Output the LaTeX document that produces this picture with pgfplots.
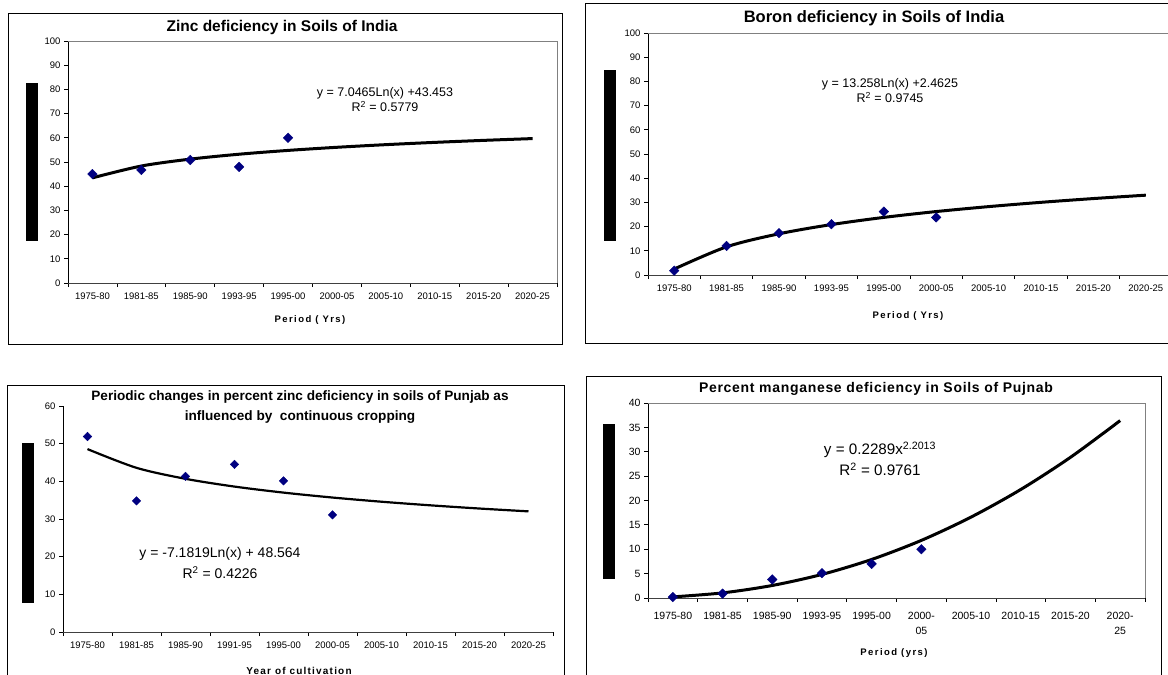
\documentclass[border=0pt]{standalone}
\usepackage{fontspec}
\setmainfont{Liberation Sans}
\usepackage{pgfplots}
\pgfplotsset{compat=1.18}
\definecolor{navy}{RGB}{0,0,128}
\pgfplotsset{
  panel/.style={
    scale only axis, xmin=0.5, xmax=10.5, ymin=0,
    axis x line*=bottom, axis y line*=left,
    x axis line style={black!75, line width=1pt, -},
    y axis line style={black, line width=0.9pt, -},
    xtick={0.5,1.5,...,10.5}, x tick label as interval,
    tick align=outside, major tick length=4pt,
    tick style={black, line width=0.8pt},
    tick label style={font=\fontsize{9.5}{11}\selectfont},
    xticklabel style={yshift=-2pt, align=center},
    /pgf/number format/assume math mode=true,
    clip=false,
  },
  datamark/.style={only marks, mark=square*, mark size=3.4pt,
    mark options={rotate=45, fill=navy, draw=navy}, color=navy},
  trend/.style={no marks, black, line width=3pt, smooth},
}
\begin{document}
\begin{tikzpicture}
\useasboundingbox (0pt,0pt) rectangle (1168pt,-675pt);
\clip (0pt,0pt) rectangle (1168pt,-675pt);
\fill[white] (0pt,0pt) rectangle (1168pt,-675pt);
\begin{scope}[x=1pt,y=-1pt]
  % frames
  \draw[line width=1pt] (8,13) rectangle (562,344);
  \draw[line width=1pt] (585,3) rectangle (1180,343);
  \draw[line width=1pt] (7,385) rectangle (564,700);
  \draw[line width=1pt] (586,376) rectangle (1161,700);
  % black blocks (rotated axis titles)
  \fill[black] (26,83) rectangle (38,241);
  \fill[black] (604,70) rectangle (616,241);
  \fill[black] (22,443) rectangle (34,603);
  \fill[black] (603,424) rectangle (615,579);
  % titles
  \node[font=\fontsize{15.5}{18}\selectfont\bfseries] at (282,27) {Zinc deficiency in Soils of India};
  \node[font=\fontsize{16.5}{18}\selectfont\bfseries] at (874,18) {Boron deficiency in Soils of India};
  \node[font=\fontsize{13.6}{20}\selectfont\bfseries, align=center] at (300,407) {Periodic changes in percent zinc deficiency in soils of Punjab as\\influenced by\ \ continuous cropping};
  \node[font=\fontsize{14}{16}\selectfont\bfseries\addfontfeatures{LetterSpace=5}] at (876,389) {Percent manganese deficiency in Soils of Pujnab};
  % axis titles
  \node[font=\fontsize{9.5}{11}\selectfont\bfseries\addfontfeatures{LetterSpace=15}] at (310,320) {Period ( Yrs)};
  \node[font=\fontsize{9.5}{11}\selectfont\bfseries\addfontfeatures{LetterSpace=15}] at (908,316) {Period ( Yrs)};
  \node[font=\fontsize{10}{11}\selectfont\bfseries\addfontfeatures{LetterSpace=12}] at (299,671) {Year of cultivation};
  \node[font=\fontsize{9.5}{11}\selectfont\bfseries\addfontfeatures{LetterSpace=15}] at (894,653) {Period (yrs)};
  % equations
  \node[font=\fontsize{12.5}{15}\selectfont, align=center] at (385,100) {y = 7.0465Ln(x) +43.453\\R\textsuperscript{2} = 0.5779};
  \node[font=\fontsize{12.5}{15}\selectfont, align=center] at (890,91) {y = 13.258Ln(x) +2.4625\\R\textsuperscript{2} = 0.9745};
  \node[font=\fontsize{14}{21}\selectfont, align=center] at (220,563) {y = -7.1819Ln(x) + 48.564\\R\textsuperscript{2} = 0.4226};
  \node[font=\fontsize{15.2}{21}\selectfont, align=center] at (880,459) {y = 0.2289x\textsuperscript{2.2013}\\R\textsuperscript{2} = 0.9761};
\end{scope}

% ---- Top-left: Zinc, India
\begin{axis}[panel, at={(68pt,-283pt)}, anchor=south west, width=489pt, height=242pt,
  ymax=100, ytick={0,10,...,100},
  xticklabels={1975-80,1981-85,1985-90,1993-95,1995-00,2000-05,2005-10,2010-15,2015-20,2020-25}]
  \addplot[trend] coordinates {(1,43.45) (2,48.34) (3,51.19) (4,53.22) (5,54.79) (6,56.08) (7,57.17) (8,58.11) (9,58.94) (10,59.68)};
  \addplot[datamark] coordinates {(1,45) (2,46.7) (3,50.8) (4,48) (5,60)};
  \draw[gray, line width=1pt] (rel axis cs:0,1) -- (rel axis cs:1,1) -- (rel axis cs:1,0);
\end{axis}

% ---- Top-right: Boron, India
\begin{axis}[panel, at={(648pt,-275pt)}, anchor=south west, width=524pt, height=242pt,
  ymax=100, ytick={0,10,...,100},
  xticklabels={1975-80,1981-85,1985-90,1993-95,1995-00,2000-05,2005-10,2010-15,2015-20,2020-25}]
  \addplot[trend] coordinates {(1,2.46) (2,11.65) (3,17.03) (4,20.84) (5,23.80) (6,26.22) (7,28.26) (8,30.03) (9,31.59) (10,32.99)};
  \addplot[datamark] coordinates {(1,1.8) (2,12) (3,17.3) (4,21) (5,26.2) (6,23.8)};
  \draw[gray, line width=1pt] (rel axis cs:0,1) -- (rel axis cs:1,1) -- (rel axis cs:1,0);
\end{axis}

% ---- Bottom-left: Zinc, Punjab
\begin{axis}[panel, at={(63pt,-632pt)}, anchor=south west, width=490pt, height=226pt,
  ymax=60, ytick={0,10,...,60},
  xticklabels={1975-80,1981-85,1985-90,1991-95,1995-00,2000-05,2005-10,2010-15,2015-20,2020-25}]
  \addplot[trend, line width=2.2pt] coordinates {(1,48.56) (2,43.59) (3,40.67) (4,38.61) (5,37.01) (6,35.70) (7,34.59) (8,33.63) (9,32.78) (10,32.03)};
  \addplot[datamark, mark size=3pt] coordinates {(1,51.9) (2,34.8) (3,41.3) (4,44.5) (5,40.1) (6,31.1)};
\end{axis}

% ---- Bottom-right: Manganese, Punjab
\begin{axis}[panel, at={(648pt,-598pt)}, anchor=south west, width=497pt, height=195pt,
  ymax=40, ytick={0,5,...,40},
  tick label style={font=\fontsize{10.5}{15}\selectfont},
  xticklabel style={yshift=-5pt},
  xticklabels={1975-80,1981-85,1985-90,1993-95,1995-00,{2000-\\05},2005-10,2010-15,2015-20,{2020-\\25}}]
  \addplot[trend] coordinates {(1,0.23) (2,1.05) (3,2.57) (4,4.84) (5,7.91) (6,11.82) (7,16.60) (8,22.26) (9,28.86) (10,36.39)};
  \addplot[datamark] coordinates {(1,0.2) (2,0.9) (3,3.8) (4,5.1) (5,7.0) (6,10.0)};
  \draw[gray, line width=1pt] (rel axis cs:0,1) -- (rel axis cs:1,1) -- (rel axis cs:1,0);
\end{axis}
\end{tikzpicture}
\end{document}
